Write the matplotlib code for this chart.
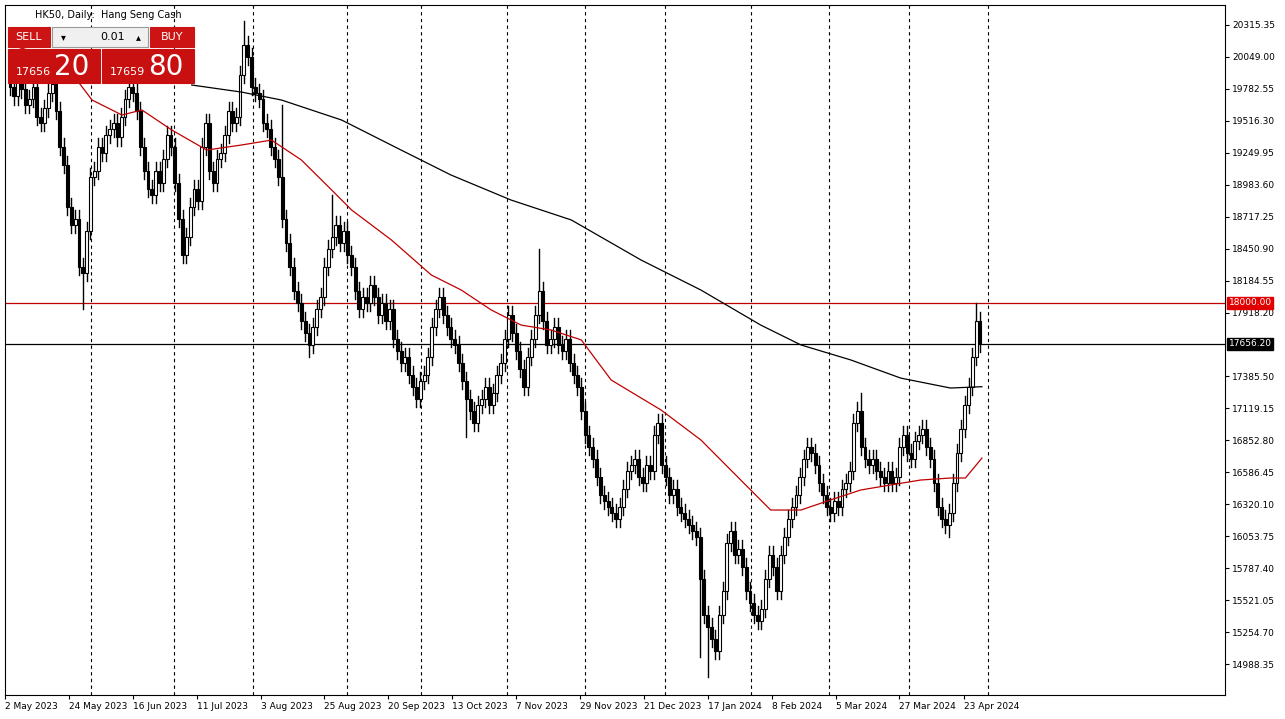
import matplotlib
matplotlib.use("Agg")
import matplotlib.pyplot as plt
from matplotlib.patches import Rectangle
import numpy as np

closes = [19800,19720,19900,19780,19650,19700,19800,19550,19500,19620,
19750,19820,19600,19300,19150,18800,18650,18700,18300,18250,
18600,19050,19100,19300,19250,19400,19450,19500,19380,19550,
19700,19800,19750,19600,19300,19100,18950,18900,19100,19000,
19200,19400,19300,19000,18700,18400,18550,18800,18950,18850,
19300,19500,19100,19000,19200,19250,19400,19600,19500,19550,
19900,20150,20050,19800,19750,19700,19500,19450,19300,19200,
19050,18700,18500,18300,18100,18000,17850,17750,17650,17800,
17950,18050,18300,18450,18550,18650,18500,18600,18400,18300,
18100,17950,18050,18000,18150,18050,17900,18000,17850,17950,
17700,17600,17500,17550,17400,17300,17200,17350,17400,17550,
17800,17950,18050,17900,17800,17700,17650,17500,17350,17200,
17100,17000,17150,17200,17300,17150,17250,17400,17500,17700,
17900,17750,17600,17450,17300,17550,17700,17900,18100,17850,
17650,17700,17800,17650,17600,17700,17500,17400,17300,17100,
16900,16800,16700,16550,16400,16350,16300,16250,16200,16300,
16450,16600,16650,16700,16550,16500,16650,16600,16900,17000,
16650,16550,16400,16450,16300,16250,16200,16150,16100,16050,
15700,15400,15300,15200,15100,15400,15600,16000,16100,15900,
15950,15800,15600,15500,15400,15350,15450,15700,15900,15800,
15600,15900,16050,16200,16300,16400,16550,16700,16800,16750,
16650,16500,16400,16300,16250,16350,16300,16450,16500,16600,
17000,17100,16800,16700,16650,16700,16600,16550,16500,16600,
16500,16550,16800,16900,16750,16700,16850,16900,16950,16800,
16700,16500,16300,16200,16150,16250,16500,16750,16950,17150,
17300,17550,17850,17656.2]
first_open = 19900
special_highs = {61: 20350, 138: 18450, 71: 19650, 84: 18900, 255: 18000, 252: 18000, 222: 17250}
special_lows = {19: 17950, 182: 14880, 180: 15050, 245: 16050, 78: 17550, 119: 16880}

red_ma_idx = [0,13.5,21.4,29.2,34.4,42.2,51.3,60.4,68.2,76,83.9,89.1,99.5,109.9,117.7,125.5,133.3,141.1,149,156.8,169.8,180.2,190.6,198.4,206.3,214,221.9,229.7,237.5,245.3,249.2,253.5]
red_ma_val = [20150,20023,19690,19565,19607,19440,19273,19315,19356,19190,18940,18773,18523,18231,18106,17940,17814,17773,17690,17356,17106,16856,16522,16272,16272,16356,16439,16481,16522,16539,16539,16705]
blk_ma_idx = [47.4,60.4,70.8,86.5,102,115,130.7,146.4,164.6,180.2,195.8,206.3,219.3,232.3,245.3,253.5]
blk_ma_val = [19815,19756,19690,19523,19273,19065,18856,18690,18356,18106,17814,17648,17523,17372,17289,17300]

yticks = [20315.35,20049.00,19782.55,19516.30,19249.95,18983.60,18717.25,18450.90,18184.55,17918.20,17385.50,17119.15,16852.80,16586.45,16320.10,16053.75,15787.40,15521.05,15254.70,14988.35]
date_labels = ["2 May 2023","24 May 2023","16 Jun 2023","11 Jul 2023","3 Aug 2023","25 Aug 2023","20 Sep 2023","13 Oct 2023","7 Nov 2023","29 Nov 2023","21 Dec 2023","17 Jan 2024","8 Feb 2024","5 Mar 2024","27 Mar 2024","23 Apr 2024"]
date_pos = [-1.3,15.4,32.0,48.7,65.4,82.0,98.7,115.4,132.0,148.7,165.4,182.0,198.7,215.4,232.0,248.7]
grid_pos = [21.1,42.7,63.3,87.8,107.3,129.7,150.0,170.8,193.2,213.5,234.4,255.2]
level_red = 18000.00
level_blk = 17656.20

W, H = 1285, 719
fig = plt.figure(figsize=(W/100, H/100), dpi=100)
ax = fig.add_axes([5/W, 24/H, 1220/W, 690/H])
ax.set_xlim(-0.8, 316.9)
ax.set_ylim(14730, 20482)

n = len(closes)
opens = [first_open] + closes[:-1]
for i in range(n):
    o, c = opens[i], closes[i]
    hi = special_highs.get(i, max(o, c) + 70)
    lo = special_lows.get(i, min(o, c) - 70)
    ax.plot([i, i], [lo, hi], color='black', lw=1, zorder=2)
    bull = c >= o
    ax.add_patch(Rectangle((i-0.38, min(o, c)), 0.76, max(abs(c-o), 8),
                 facecolor='white' if bull else 'black', edgecolor='black', lw=0.8, zorder=3))

ax.plot(red_ma_idx, red_ma_val, color='#c00000', lw=0.9, zorder=4)
ax.plot(blk_ma_idx, blk_ma_val, color='black', lw=0.9, zorder=4)
ax.axhline(level_red, color='#c00000', lw=0.9, zorder=1)
ax.axhline(level_blk, color='black', lw=0.9, zorder=1)
for g in grid_pos:
    ax.axvline(g, color='black', lw=0.8, ls=(0, (3, 3)), zorder=1)

ax.yaxis.tick_right()
ax.set_yticks(yticks)
ax.set_yticklabels([f"{v:.2f}" for v in yticks], fontsize=6.5)
ax.tick_params(axis='y', length=3, pad=2)
ax.set_xticks(date_pos)
ax.set_xticklabels([])
ax.tick_params(axis='x', length=3)
for p, l in zip(date_pos, date_labels):
    ax.text(p, -0.01, l, transform=ax.get_xaxis_transform(), ha='left', va='top', fontsize=6.5)

for lvl, fc, tc in [(level_red, '#e00000', 'white'), (level_blk, 'black', 'white')]:
    ax.text(1.003, lvl, f"{lvl:.2f}", transform=ax.get_yaxis_transform(), fontsize=6.5, color=tc,
            va='center', ha='left', bbox=dict(boxstyle='square,pad=0.15', fc=fc, ec=fc))

# title & trade widget
fig.text(35/W, 1-15/H, "HK50, Daily:  Hang Seng Cash", fontsize=7, va='center')
def box(x, y, w, h, fc, ec=None):
    fig.patches.append(Rectangle((x/W, 1-(y+h)/H), w/W, h/H, transform=fig.transFigure,
                                 facecolor=fc, edgecolor=ec or fc, lw=0.8))
box(8, 27, 42, 20, '#cc1414')
box(52, 27, 96, 20, '#f0f0f0', '#999999')
box(150, 27, 44, 20, '#cc1414')
box(8, 49, 92, 34, '#c81010')
box(102, 49, 92, 34, '#c81010')
fig.text(29/W, 1-37/H, "SELL", color='white', fontsize=8, ha='center', va='center')
fig.text(172/W, 1-37/H, "BUY", color='white', fontsize=8, ha='center', va='center')
fig.text(63/W, 1-37/H, "▾", fontsize=7, ha='center', va='center')
fig.text(138/W, 1-37/H, "▴", fontsize=7, ha='center', va='center')
fig.text(125/W, 1-37/H, "0.01", fontsize=8, ha='right', va='center')
fig.text(16/W, 1-72/H, "17656", color='white', fontsize=8, ha='left', va='center')
fig.text(54/W, 1-67/H, "20", color='white', fontsize=20, ha='left', va='center')
fig.text(110/W, 1-72/H, "17659", color='white', fontsize=8, ha='left', va='center')
fig.text(148/W, 1-67/H, "80", color='white', fontsize=20, ha='left', va='center')

fig.savefig("out.png", dpi=100, facecolor='white')
